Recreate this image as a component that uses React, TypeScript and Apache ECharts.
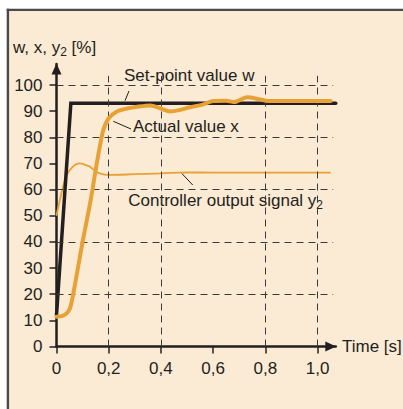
import React, { useEffect, useRef } from 'react';
import * as echarts from 'echarts';

// Axis ticks
const xTicks = [0, 0.2, 0.4, 0.6, 0.8, 1.0];
const yTicks = [0, 10, 20, 30, 40, 50, 60, 70, 80, 90, 100];
// Dashed grid positions
const gridX = [0.2, 0.4, 0.8, 1.0];
const gridY = [20, 40, 60, 80, 100];

// Set-point value w
const setpointT = [0, 0.055, 1.07];
const setpointW = [12, 93, 93];

// Actual value x
const actualT = [0, 0.02, 0.035, 0.05, 0.062, 0.1, 0.131, 0.15, 0.167, 0.18, 0.2, 0.23, 0.27, 0.31, 0.36, 0.4, 0.435, 0.47, 0.51, 0.56, 0.6, 0.65, 0.68, 0.73, 0.78, 0.81, 0.9, 1.05];
const actualX = [11.4, 11.6, 12.3, 14.2, 19, 40, 56, 67.5, 77, 83, 87.3, 89.8, 91, 91.7, 92.2, 91, 89.9, 90.4, 91.5, 92.5, 93.9, 94, 93.5, 95.3, 94.5, 93.9, 93.9, 93.9];

// Controller output signal y2
const outputT = [0, 0.015, 0.037, 0.06, 0.088, 0.11, 0.127, 0.15, 0.165, 0.2, 0.3, 0.4, 0.5, 0.6, 1.05];
const outputY2 = [50, 57, 65, 68.5, 70, 69.5, 68.8, 67, 66.2, 65.6, 65.9, 66.2, 66.6, 66.5, 66.5];

const FONT = '"Liberation Sans", Arial, sans-serif';
const INK = '#231F20';
const ORANGE = '#E8A135';
const BG = '#FBEAD4';

const zip = (a: number[], b: number[]) => a.map((v, i) => [v, b[i]]);

export default function App() {
  const ref = useRef<HTMLDivElement>(null);
  useEffect(() => {
    document.body.style.margin = '0';
    const chart = echarts.init(ref.current!, null, { renderer: 'svg' });
    const gridLines: any[] = [
      ...gridX.map((x) => [{ coord: [x, 0] }, { coord: [x, 103.5] }]),
      ...gridY.map((y) => [{ coord: [0, y] }, { coord: [1.06, y] }]),
    ];
    const text = (t: string, x: number, y: number, extra: any = {}) => ({
      type: 'text',
      silent: true,
      style: {
        text: t,
        x,
        y,
        fill: INK,
        font: `17px ${FONT}`,
        textAlign: 'left',
        verticalAlign: 'middle',
        ...extra,
      },
    });
    const line = (x1: number, y1: number, x2: number, y2: number) => ({
      type: 'line',
      silent: true,
      shape: { x1, y1, x2, y2 },
      style: { stroke: INK, lineWidth: 1 },
    });
    const rich = {
      a: { fontSize: 17, fontFamily: FONT, fill: INK, lineHeight: 22 },
      s: { fontSize: 12, fontFamily: FONT, fill: INK, lineHeight: 13, verticalAlign: 'bottom' },
    };
    chart.setOption({
      animation: false,
      backgroundColor: BG,
      grid: { left: 56.5, top: 64.1, width: 279.3, height: 282.4, containLabel: false },
      xAxis: {
        type: 'value',
        min: 0,
        max: 1.07,
        axisLine: {
          show: true,
          onZero: false,
          symbol: ['none', 'triangle'],
          symbolSize: [10, 11],
          symbolOffset: [0, -5],
          lineStyle: { color: INK, width: 2.5 },
        },
        axisTick: { show: true, customValues: xTicks, length: 7, lineStyle: { color: INK, width: 1.5 } },
        axisLabel: {
          customValues: xTicks,
          margin: 13,
          color: INK,
          fontSize: 17,
          fontFamily: FONT,
          formatter: (v: number) => (v === 0 ? '0' : v.toFixed(1).replace('.', ',')),
        },
        splitLine: { show: false },
      },
      yAxis: {
        type: 'value',
        min: 0,
        max: 108,
        axisLine: {
          show: true,
          onZero: false,
          symbol: ['none', 'triangle'],
          symbolSize: [10, 11],
          symbolOffset: [0, -5],
          lineStyle: { color: INK, width: 2.5 },
        },
        axisTick: { show: true, customValues: yTicks, length: 7, lineStyle: { color: INK, width: 1.5 } },
        axisLabel: {
          customValues: yTicks,
          margin: 14,
          color: INK,
          fontSize: 17,
          fontFamily: FONT,
        },
        splitLine: { show: false },
      },
      series: [
        {
          type: 'line',
          data: [],
          z: 1,
          silent: true,
          markLine: {
            silent: true,
            symbol: ['none', 'none'],
            label: { show: false },
            emphasis: { disabled: true },
            lineStyle: { color: '#3a3a3a', width: 1, type: [7, 5] },
            data: gridLines,
          },
        },
        {
          name: 'Controller output signal y2',
          type: 'line',
          data: zip(outputT, outputY2),
          smooth: 0.3,
          showSymbol: false,
          z: 3,
          lineStyle: { color: ORANGE, width: 1.8 },
        },
        {
          name: 'Set-point value w',
          type: 'line',
          data: zip(setpointT, setpointW),
          showSymbol: false,
          z: 4,
          lineStyle: { color: INK, width: 3.5, cap: 'round', join: 'miter' },
        },
        {
          name: 'Actual value x',
          type: 'line',
          data: zip(actualT, actualX),
          smooth: 0.3,
          showSymbol: false,
          z: 5,
          lineStyle: { color: ORANGE, width: 4, cap: 'round' },
        },
      ],
      graphic: [
        { type: 'rect', silent: true, shape: { x: 0, y: 0, width: 403, height: 9 }, style: { fill: '#fff' } },
        { type: 'rect', silent: true, shape: { x: 0, y: 0, width: 7, height: 409 }, style: { fill: '#fff' } },
        { type: 'line', silent: true, shape: { x1: 6.7, y1: 9.9, x2: 403, y2: 9.9 }, style: { stroke: '#4a4a4a', lineWidth: 2.4 } },
        { type: 'line', silent: true, shape: { x1: 7.9, y1: 8.7, x2: 7.9, y2: 409 }, style: { stroke: '#4a4a4a', lineWidth: 2.4 } },
        {
          type: 'text',
          silent: true,
          style: { text: '{a|w, x, y}{s|2}{a| [%]}', rich, x: 13, y: 47, textAlign: 'left', verticalAlign: 'middle' },
        },
        text('Set-point value w', 124, 75),
        line(129, 91, 125, 100.7),
        text('Actual value x', 133, 126.5),
        line(113.3, 121.3, 131, 129),
        {
          type: 'text',
          silent: true,
          style: {
            text: '{a|Controller output signal y}{s|2}',
            rich,
            x: 128.3,
            y: 200,
            textAlign: 'left',
            verticalAlign: 'middle',
          },
        },
        line(181.7, 173.3, 192.7, 185),
        text('Time [s]', 342, 346.5),
      ],
    });
    return () => chart.dispose();
  }, []);
  return <div ref={ref} style={{ position: 'absolute', left: 0, top: 0, width: 403, height: 409 }} />;
}
